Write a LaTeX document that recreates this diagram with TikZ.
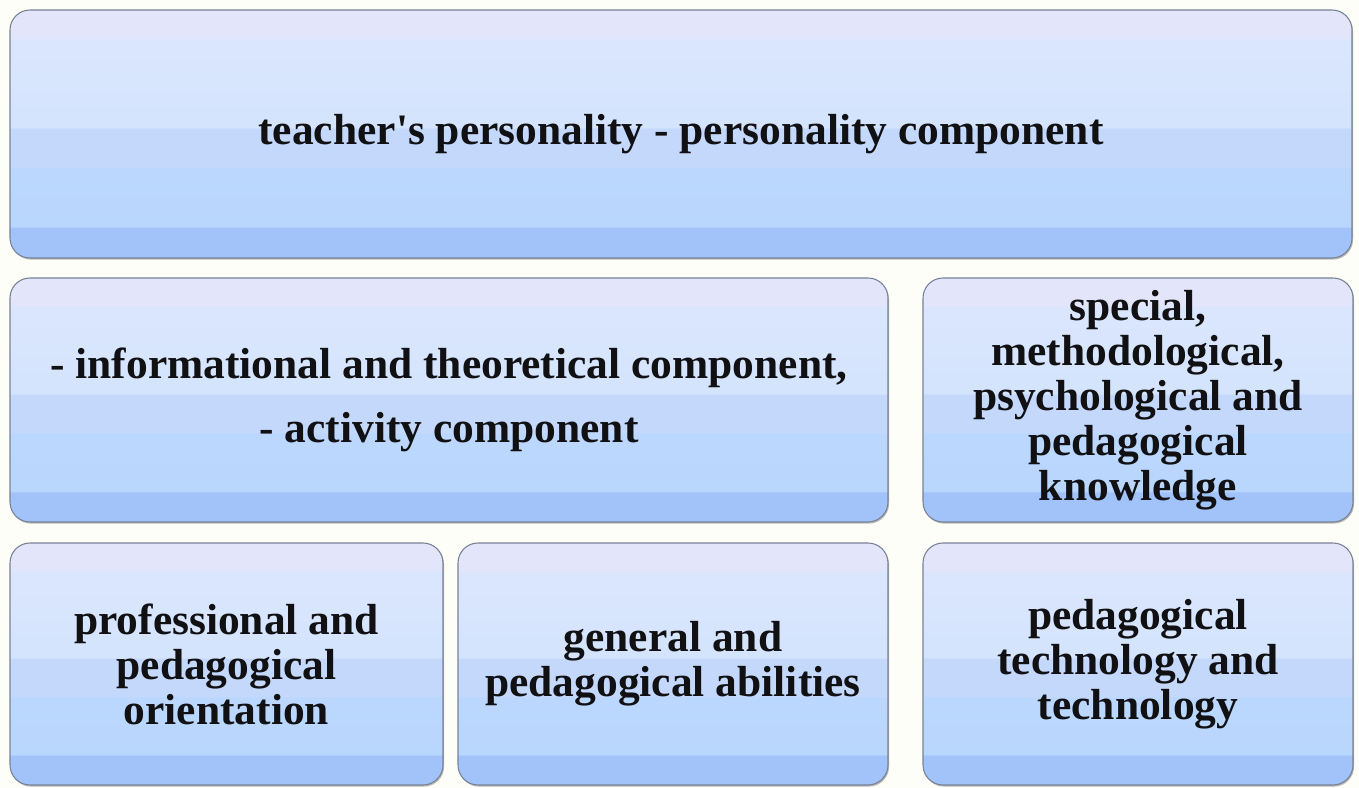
\documentclass[tikz,border=0pt]{standalone}
\usepackage{fontspec}
\setmainfont{Liberation Serif}
\usetikzlibrary{shadows}

% banded blue fill of the boxes
\pgfdeclareverticalshading{boxband}{100bp}{%
  color(0bp)=(rgb,255:red,161;green,195;blue,250);
  color(31bp)=(rgb,255:red,161;green,195;blue,250);
  color(31.4bp)=(rgb,255:red,185;green,214;blue,253);
  color(43bp)=(rgb,255:red,187;green,215;blue,253);
  color(43.4bp)=(rgb,255:red,196;green,216;blue,252);
  color(51bp)=(rgb,255:red,196;green,216;blue,252);
  color(51.4bp)=(rgb,255:red,212;green,228;blue,253);
  color(69bp)=(rgb,255:red,218;green,230;blue,253);
  color(69.4bp)=(rgb,255:red,227;green,229;blue,251);
  color(100bp)=(rgb,255:red,227;green,229;blue,251)}

\definecolor{paper}{RGB}{254,254,248}
\definecolor{rim}{RGB}{120,130,150}
\definecolor{ink}{RGB}{17,17,20}

\tikzset{
  block/.style={draw=rim, line width=0.8pt, rounded corners=15pt, shading=boxband,
    drop shadow={shadow xshift=0.8pt, shadow yshift=-1.2pt, opacity=0.45, fill=black!60},
    align=center, text=ink, inner sep=0pt,
    font=\fontsize{32.6}{33.75}\selectfont\bfseries},
}

\begin{document}
\begin{tikzpicture}[x=0.75pt,y=-0.75pt]

% background
\fill[paper] (0,0) rectangle (1359,788);

% top row
\node[block, minimum width=1006.5pt, minimum height=186pt] (personality) at (681,134)
  {teacher\textquotesingle s personality - personality component};

% middle row
\node[block, minimum width=658.5pt, minimum height=183pt] (components) at (449,400)
  {- informational and theoretical component,\\[14pt] - activity component};
\node[block, minimum width=322.5pt, minimum height=183pt] (knowledge) at (1138,400)
  {special,\\ methodological,\\ psychological and\\ pedagogical\\ knowledge};

% bottom row
\node[block, minimum width=324.75pt, minimum height=181.5pt] (orientation) at (226.5,664)
  {professional and\\ pedagogical\\ orientation};
\node[block, minimum width=322.5pt, minimum height=181.5pt] (abilities) at (673,664)
  {general and\\ pedagogical abilities};
\node[block, minimum width=322.5pt, minimum height=181.5pt] (technology) at (1138,664)
  {pedagogical\\ technology and\\ technology};

\end{tikzpicture}
\end{document}
